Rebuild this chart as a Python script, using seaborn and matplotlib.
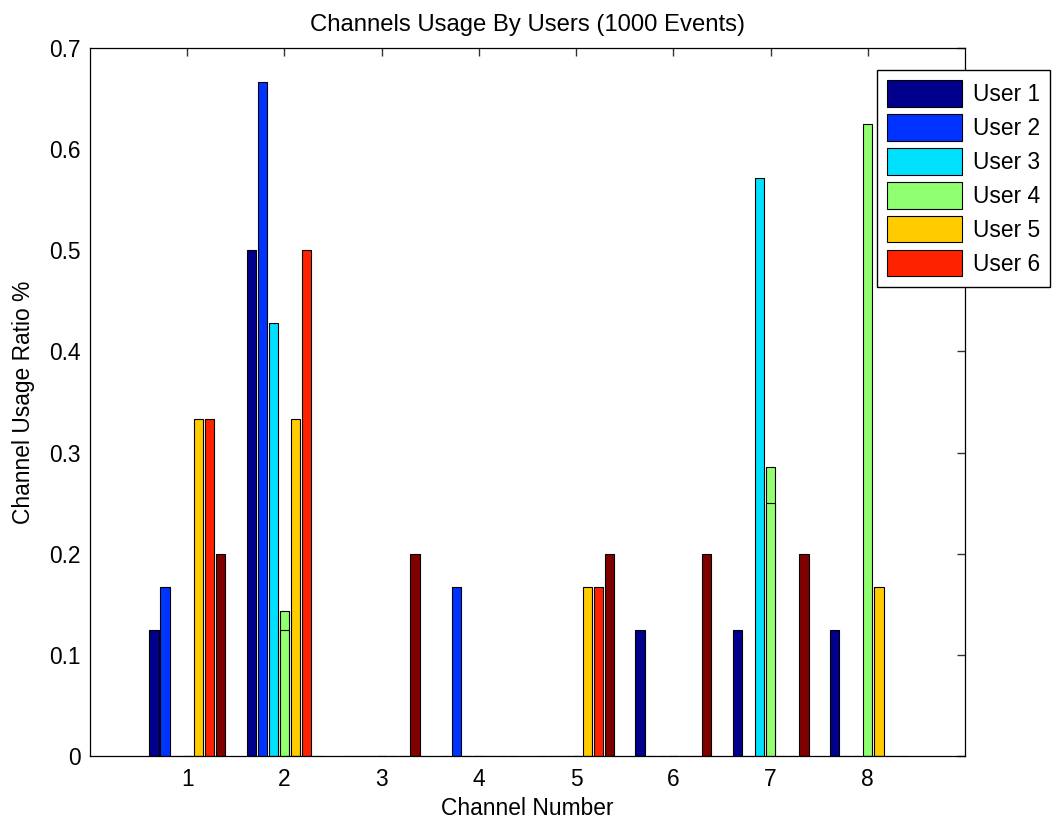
import numpy as np
import pandas as pd
import matplotlib
matplotlib.use("Agg")
import matplotlib.pyplot as plt
from matplotlib.patches import Patch
import seaborn as sns

channels = [1, 2, 3, 4, 5, 6, 7, 8]
users = ["User 1", "User 2", "User 3", "User 4", "User 5", "User 6", "User 7"]
user1 = [0.125, 0.5, 0, 0, 0, 0.125, 0.125, 0.125]
user2 = [0.1667, 0.6667, 0, 0.1667, 0, 0, 0, 0]
user3 = [0, 0.4286, 0, 0, 0, 0, 0.5714, 0]
user4 = [0, 0.1429, 0, 0, 0, 0, 0.2857, 0.625]
user5 = [0.3333, 0.3333, 0, 0, 0.1667, 0, 0, 0.1667]
user6 = [0.3333, 0.5, 0, 0, 0.1667, 0, 0, 0]
user7 = [0.2, 0, 0.2, 0, 0.2, 0.2, 0.2, 0]
# earlier (overlaid) values for User 4, visible as a line inside its bars
user4_prev = [0, 0.125, 0, 0, 0, 0, 0.25, 0]
colors = ["#00008C", "#0033FF", "#00E0FF", "#90FF70", "#FFCC00", "#FF2200", "#800000"]
legend_users = users[:6]

series = [user1, user2, user3, user4, user5, user6, user7]
rows = []
for u, vals in zip(users, series):
    for c, v in zip(channels, vals):
        rows.append({"channel": str(c), "user": u, "ratio": v})
df = pd.DataFrame(rows)

rows2 = []
for u in users:
    for i, c in enumerate(channels):
        rows2.append({"channel": str(c), "user": u,
                      "ratio": user4_prev[i] if u == "User 4" else np.nan})
df2 = pd.DataFrame(rows2)

sns.set_style("white")
plt.rcParams["font.family"] = ["Liberation Sans", "DejaVu Sans"]
plt.rcParams["text.color"] = "black"
plt.rcParams["axes.labelcolor"] = "black"
FS = 16.4
plt.rcParams["font.size"] = FS

fig = plt.figure(figsize=(10.53, 8.23), dpi=100)
ax = fig.add_axes([90 / 1053, 1 - 756 / 823, 875 / 1053, 708 / 823])

order = [str(c) for c in channels]
common = dict(x="channel", y="ratio", hue="user", order=order,
              hue_order=users, palette=colors, saturation=1, width=0.8,
              gap=0.17, edgecolor="black", linewidth=0.8, errorbar=None,
              legend=False, ax=ax)
sns.barplot(data=df, **common)
sns.barplot(data=df2, **common)

ax.set_xlim(-1, 8)
ax.set_ylim(0, 0.7)
ax.set_yticks(np.arange(0, 0.71, 0.1))
ax.set_yticklabels(["0", "0.1", "0.2", "0.3", "0.4", "0.5", "0.6", "0.7"])
ax.tick_params(direction="in", length=6, width=1, colors="#333333",
               labelcolor="black", top=True, right=True, labelsize=FS)
ax.tick_params(axis="x", pad=9)
ax.tick_params(axis="y", pad=7)
for s in ax.spines.values():
    s.set_visible(True)
    s.set_color("black")
    s.set_linewidth(0.9)

ax.set_title("Channels Usage By Users (1000 Events)", fontsize=17.2, pad=12,
             color="black")
ax.set_xlabel("Channel Number", fontsize=FS, labelpad=4, color="black")
ax.set_ylabel("Channel Usage Ratio %", fontsize=FS, labelpad=10, color="black")

handles = [Patch(facecolor=c, edgecolor="black", linewidth=0.8)
           for c in colors[:6]]
leg = ax.legend(handles, legend_users, loc="upper right",
                bbox_to_anchor=(1050 / 1053, 1 - 70 / 823),
                bbox_transform=fig.transFigure, fontsize=FS,
                borderaxespad=0,
                handlelength=3.3, handleheight=1.42, handletextpad=0.45,
                labelspacing=0.32, borderpad=0.45, fancybox=False,
                framealpha=1, edgecolor="black")
leg.get_frame().set_linewidth(1.0)
for t in leg.get_texts():
    t.set_color("black")

fig.savefig("out.png", dpi=100)
